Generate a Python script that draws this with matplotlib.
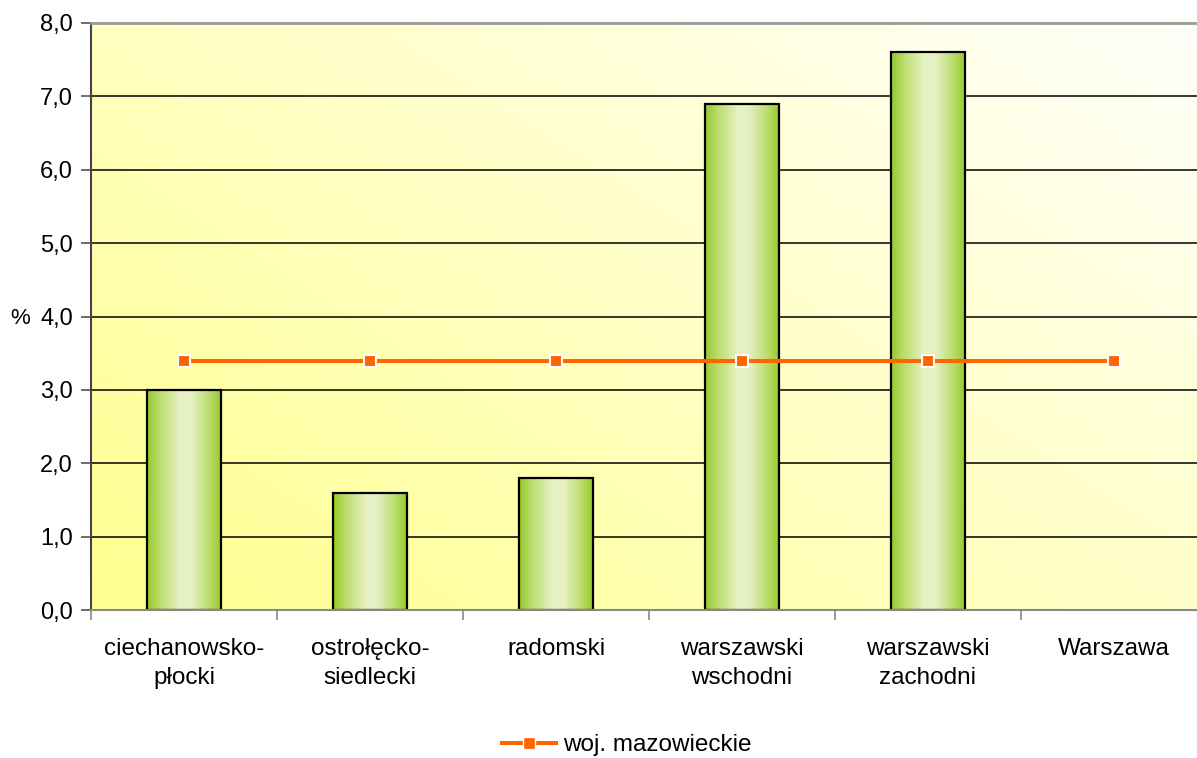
import numpy as np
import matplotlib
matplotlib.use("Agg")
import matplotlib.pyplot as plt
from matplotlib.colors import LinearSegmentedColormap
from matplotlib.lines import Line2D

plt.rcParams['font.family'] = ['Liberation Sans', 'DejaVu Sans']

categories = ["ciechanowsko-\npłocki", "ostrołęcko-\nsiedlecki", "radomski",
              "warszawski\nwschodni", "warszawski\nzachodni", "Warszawa"]
bar_values = [3.0, 1.6, 1.8, 6.9, 7.6, 0.0]
line_values = [3.4, 3.4, 3.4, 3.4, 3.4, 3.4]
line_label = "woj. mazowieckie"
yticks = [0, 1, 2, 3, 4, 5, 6, 7, 8]

fig = plt.figure(figsize=(11.97, 7.58), dpi=100)
ax = fig.add_axes([91/1197, 1 - 610/758, (1207 - 91)/1197, (610 - 23)/758])

# background gradient (yellow bottom-left -> white top-right)
n = 200
xx, yy = np.meshgrid(np.linspace(0, 1, n), np.linspace(0, 1, n))
t = (xx * 0.55 + yy * 0.45)
c0 = np.array([1.0, 1.0, 0.56])
c1 = np.array([1.0, 1.0, 0.985])
img = c0[None, None, :] * (1 - t[..., None]) + c1[None, None, :] * t[..., None]
ax.imshow(img, extent=(0, 1, 0, 1), transform=ax.transAxes, origin='lower',
          aspect='auto', zorder=0, interpolation='bilinear')

x = np.arange(len(categories))

# gridlines
for yv in yticks[1:-1]:
    ax.axhline(yv, color='black', lw=1.1, zorder=1)

# bars with horizontal gradient
bar_cmap = LinearSegmentedColormap.from_list("g", [
    (0.0, (0.58, 0.79, 0.15)),
    (0.15, (0.72, 0.86, 0.40)),
    (0.45, (0.91, 0.95, 0.78)),
    (0.60, (0.90, 0.94, 0.76)),
    (0.85, (0.72, 0.86, 0.40)),
    (1.0, (0.58, 0.79, 0.15)),
])
width = 0.4
bars = ax.bar(x, bar_values, width=width, facecolor='none', edgecolor='black',
              linewidth=1.6, zorder=3)
grad = np.linspace(0, 1, 256)[None, :]
for b in bars:
    h = b.get_height()
    if h <= 0:
        b.set_visible(False)
        continue
    x0 = b.get_x()
    im = ax.imshow(grad, cmap=bar_cmap, extent=(x0, x0 + b.get_width(), 0, h),
                   aspect='auto', zorder=2, interpolation='bilinear')
    im.set_clip_path(b)

ax.set_xlim(-0.5, len(categories) - 0.5)
ax.set_ylim(0, 8)

# line
ax.plot(x, line_values, color='#FF6600', lw=2.9, marker='s', markersize=9,
        markerfacecolor='#FF6600', markeredgecolor='white', markeredgewidth=1.5,
        zorder=4, clip_on=False)

# axes styling
ax.set_yticks(yticks)
ax.set_yticklabels([f"{v:.1f}".replace('.', ',') for v in yticks], fontsize=17)
ax.tick_params(axis='y', length=7, width=1.2, color='#555555', pad=6)
ax.set_xticks(x)
ax.set_xticklabels(categories, fontsize=17.5, linespacing=1.4)
ax.tick_params(axis='x', length=0, pad=20)
ax.set_xticks(np.arange(-0.5, len(categories)), minor=True)
ax.tick_params(axis='x', which='minor', length=7, width=1.2, color='#888888')

ax.spines['left'].set_color('#444444')
ax.spines['left'].set_linewidth(1.5)
ax.spines['bottom'].set_color('#888888')
ax.spines['bottom'].set_linewidth(1.5)
ax.spines['top'].set_color('#999999')
ax.spines['top'].set_linewidth(2)
ax.spines['right'].set_visible(False)
for sp in ax.spines.values():
    sp.set_zorder(5)

fig.text(20/1197, 1 - 318/758, "%", fontsize=16, ha='center', va='center')

handle = Line2D([0], [0], color='#FF6600', lw=2.9, marker='s', markersize=9,
                markerfacecolor='#FF6600', markeredgecolor='white', markeredgewidth=1.0)
fig.legend([handle], [line_label], loc='center', bbox_to_anchor=(627/1197, 1 - 745/758),
           frameon=False, fontsize=17.5, handlelength=2.2, handletextpad=0.3)

fig.savefig("out.png", dpi=100)
